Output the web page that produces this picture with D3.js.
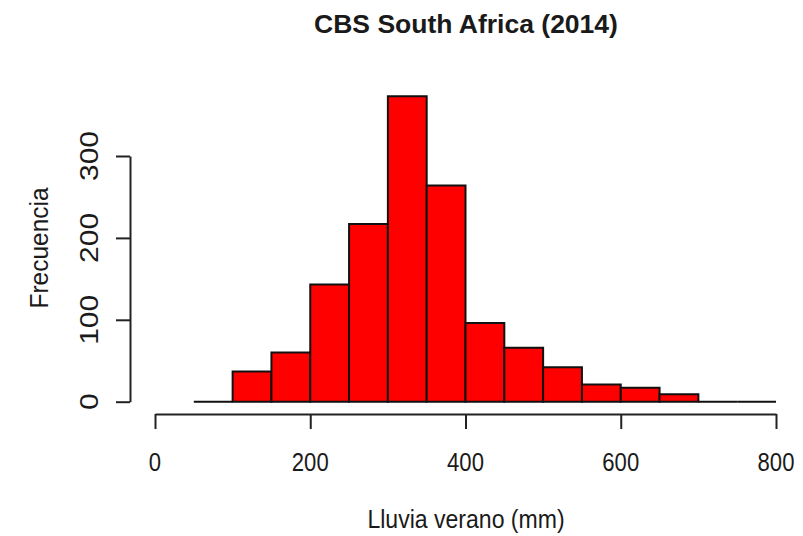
<!DOCTYPE html>
<html>
<head>
<meta charset="utf-8">
<script src="https://cdn.jsdelivr.net/npm/d3@7"></script>
<style>
  html, body { margin: 0; padding: 0; background: #fff; }
  svg { display: block; }
  text { font-family: "Liberation Sans", Arial, sans-serif; fill: #1a1a1a; }
</style>
</head>
<body>
<svg id="chart" width="803" height="536"></svg>
<script>
// ---- data ----
const binStarts = [50, 100, 150, 200, 250, 300, 350, 400, 450, 500, 550, 600, 650, 700, 750];
const binWidth = 50;
const counts = [0, 37, 60, 143, 217, 373, 264, 96, 66, 42, 21, 17, 9, 0, 0];
const xTicks = [0, 200, 400, 600, 800];
const yTicks = [0, 100, 200, 300];
const title = "CBS South Africa (2014)";
const xLabel = "Lluvia verano (mm)";
const yLabel = "Frecuencia";

// ---- layout ----
const svg = d3.select("#chart");
const x = d3.scaleLinear().domain([0, 800]).range([155, 776]);
const y = d3.scaleLinear().domain([0, 300]).range([401.7, 156]);
const xAxisY = 414;
const yAxisX = 130;

// bars (drawn as closed paths so empty bins still show as a baseline segment)
svg.append("g").selectAll("path")
  .data(binStarts.map((s, i) => ({ s, c: counts[i] })))
  .join("path")
  .attr("d", d => {
    const x0 = x(d.s), x1 = x(d.s + binWidth), y0 = y(0), y1 = y(d.c);
    return `M${x0},${y0}V${y1}H${x1}V${y0}Z`;
  })
  .attr("fill", "#ff0000")
  .attr("stroke", "#111")
  .attr("stroke-width", 2);

// x axis
const xAxis = svg.append("g")
  .attr("transform", `translate(0,${xAxisY})`)
  .call(d3.axisBottom(x).tickValues(xTicks).tickSize(15).tickSizeOuter(0).tickFormat(""));
xAxis.selectAll("path, line").attr("stroke", "#222").attr("stroke-width", 2);

svg.append("g").selectAll("text")
  .data(xTicks)
  .join("text")
  .attr("transform", d => `translate(${x(d)},470.7) scale(0.85,1)`)
  .attr("text-anchor", "middle")
  .attr("font-size", 26)
  .text(d => d);

// y axis
const yAxis = svg.append("g")
  .attr("transform", `translate(${yAxisX},0)`)
  .call(d3.axisLeft(y).tickValues(yTicks).tickSize(14).tickSizeOuter(0).tickFormat(""));
yAxis.selectAll("path, line").attr("stroke", "#222").attr("stroke-width", 2);

svg.append("g").selectAll("text")
  .data(yTicks)
  .join("text")
  .attr("transform", d => `translate(98,${y(d)}) scale(0.83,1) rotate(-90)`)
  .attr("text-anchor", "middle")
  .attr("font-size", 30)
  .text(d => d);

// title
svg.append("text")
  .attr("transform", "translate(466,33)")
  .attr("text-anchor", "middle")
  .attr("font-size", 26.5)
  .attr("font-weight", "bold")
  .text(title);

// x label
svg.append("text")
  .attr("transform", "translate(466,528.3) scale(0.9,1)")
  .attr("text-anchor", "middle")
  .attr("font-size", 25.6)
  .text(xLabel);

// y label
svg.append("text")
  .attr("transform", "translate(48,248) scale(1.05,1) rotate(-90)")
  .attr("text-anchor", "middle")
  .attr("font-size", 24.5)
  .text(yLabel);
</script>
</body>
</html>
